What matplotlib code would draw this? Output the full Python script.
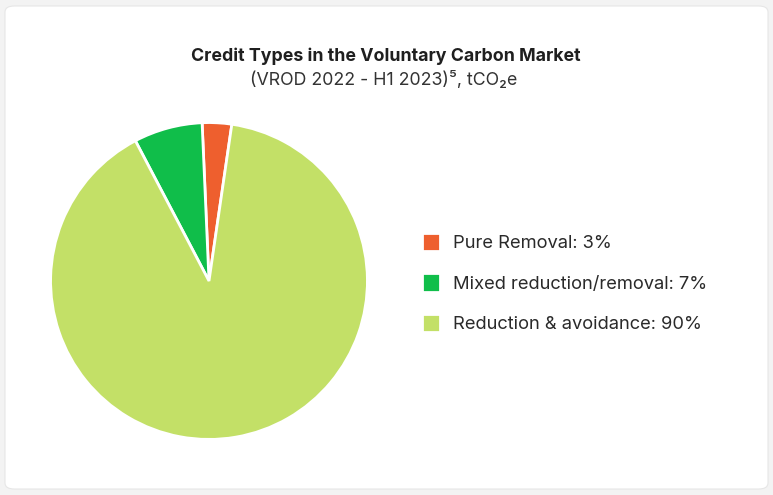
import matplotlib.pyplot as plt
from matplotlib.patches import FancyBboxPatch

plt.rcParams['font.family'] = ['Inter', 'DejaVu Sans']

categories = ["Pure Removal", "Mixed reduction/removal", "Reduction & avoidance"]
shares = [3, 7, 90]
colors = ["#EE5F2E", "#10BE4A", "#C3E067"]

W, H = 773, 495
fig = plt.figure(figsize=(W / 100, H / 100), dpi=100)
fig.patch.set_facecolor("#F3F3F3")

# white rounded card
card = FancyBboxPatch((5 / W, 6 / H), (W - 10) / W, (H - 12) / H,
                      boxstyle="round,pad=0,rounding_size=0.012",
                      transform=fig.transFigure, facecolor="white",
                      edgecolor="#E6E6E6", linewidth=0.8, zorder=-5)
fig.patches.append(card)

fig.text(386 / W, 1 - 56 / H, "Credit Types in the Voluntary Carbon Market",
         ha="center", va="center", fontsize=12.8, fontweight="bold", color="#1F1F1F")
fig.text(384 / W, 1 - 80 / H, "(VROD 2022 - H1 2023)⁵, tCO₂e",
         ha="center", va="center", fontsize=12.8, color="#333333")

cx, cy, r = 209, 281, 160
ax = fig.add_axes([(cx - r) / W, (H - cy - r) / H, 2 * r / W, 2 * r / H])
ax.patch.set_alpha(0)
wedges, _ = ax.pie(shares, colors=colors, startangle=81.7, counterclock=True,
                   wedgeprops=dict(edgecolor="white", linewidth=2))
ax.set_xlim(-1.01, 1.01)
ax.set_ylim(-1.01, 1.01)
ax.set_aspect("equal")

labels = [f"{c}: {s}%" for c, s in zip(categories, shares)]
fig.legend(wedges, labels, loc="center left",
           bbox_to_anchor=(405 / W, 1 - 283 / H), frameon=False,
           fontsize=13.2, handlelength=1.0, handleheight=1.15,
           handletextpad=0.7, labelspacing=1.15, labelcolor="#2A2A2A")

fig.savefig("out.png", dpi=100, facecolor=fig.get_facecolor())
